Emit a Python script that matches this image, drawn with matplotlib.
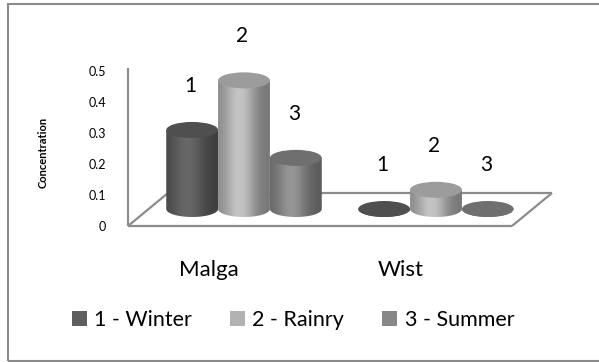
import numpy as np
import matplotlib
matplotlib.use("Agg")
import matplotlib.pyplot as plt
from matplotlib.patches import Ellipse, PathPatch, Rectangle, Patch
from matplotlib.path import Path
from matplotlib.lines import Line2D
import matplotlib.transforms as mtransforms

plt.rcParams['font.family'] = ['Lato', 'DejaVu Sans']

# --- data -------------------------------------------------------------
sites = ["Malga", "Wist"]
seasons = ["1 - Winter", "2 - Rainry", "3 - Summer"]
season_tags = ["1", "2", "3"]
winter = [0.255, 0.0]
rainry = [0.415, 0.062]
summer = [0.165, 0.0]
y_ticks = [0, 0.1, 0.2, 0.3, 0.4, 0.5]

series = [winter, rainry, summer]
base_colors = ["#5e5e5e", "#b2b2b2", "#878787"]
top_colors = ["#4f4f4f", "#9c9c9c", "#6f6f6f"]

DPI = 100
fig = plt.figure(figsize=(5.99, 3.62), dpi=DPI)
fig.patch.set_facecolor("white")

W, H = 599, 362
ax = fig.add_axes([128 / W, 136 / H, 384 / W, 155 / H])
ax.set_xlim(0, 2)
ax.set_ylim(0, 0.5)
ax.patch.set_alpha(0)
for s in ax.spines.values():
    s.set_visible(False)
ax.set_xticks([])
ax.set_yticks(y_ticks)
ax.set_yticklabels(["0", "0.1", "0.2", "0.3", "0.4", "0.5"], fontsize=9)
ax.tick_params(axis="y", length=0, pad=16)

# depth offsets (pixels) for the pseudo-3D floor
depth = mtransforms.Affine2D().translate(40, 33)
mid = mtransforms.Affine2D().translate(20, 17)
tr_back = ax.transData + depth
tr_mid = ax.transData + mid

floor_kw = dict(color="#8c8c8c", lw=1.6, solid_capstyle="butt", zorder=1)
ax.add_line(Line2D([0, 0], [0, 0.51], clip_on=False, **floor_kw))
ax.add_line(Line2D([0, 2], [0, 0], clip_on=False, **floor_kw))
ax.add_line(Line2D([0, 2], [0, 0], transform=tr_back, clip_on=False, **floor_kw))
for xe in (0, 2):
    p0 = ax.transData.transform((xe, 0))
    p1 = tr_back.transform((xe, 0))
    ax.add_line(Line2D([p0[0], p1[0]], [p0[1], p1[1]],
                       transform=None, clip_on=False, **floor_kw))

# cylinder geometry
bar_w = 0.27
spacing = 0.27
px_per_unit = ax.transData.transform((0, 1))[1] - ax.transData.transform((0, 0))[1]
b = 8.0 / px_per_unit  # half height of the elliptical caps


def shade(base, n=64):
    c = np.array(matplotlib.colors.to_rgb(base))
    t = np.linspace(0, 1, n)
    f = 0.74 + 0.40 * np.exp(-((t - 0.42) / 0.30) ** 2)
    f -= 0.08 * t
    rgb = np.clip(c[None, :] * f[:, None], 0, 1)
    return rgb[None, :, :]


def cylinder(xc, v, base, top, z):
    x0, x1 = xc - bar_w / 2, xc + bar_w / 2
    th = np.linspace(np.pi, 2 * np.pi, 40)
    arc = np.column_stack([xc + bar_w / 2 * np.cos(th), b * np.sin(th)])
    verts = np.vstack([[x0, v], [x0, 0], arc, [x1, 0], [x1, v], [x0, v]])
    codes = [Path.MOVETO] + [Path.LINETO] * (len(verts) - 2) + [Path.CLOSEPOLY]
    body = PathPatch(Path(verts, codes), transform=tr_mid, fc="none",
                     ec="none", clip_on=False)
    ax.add_patch(body)
    im = ax.imshow(shade(base), extent=(x0, x1, -b, v + b), aspect="auto",
                   interpolation="bilinear", transform=tr_mid, zorder=z,
                   clip_on=True)
    im.set_clip_path(body)
    cap = Ellipse((xc, v), bar_w, 2 * b, transform=tr_mid, fc=top,
                  ec="none", zorder=z + 0.1, clip_on=False)
    ax.add_patch(cap)


for ci, site in enumerate(sites):
    center = ci + 0.5
    for si, vals in enumerate(series):
        xc = center + (si - 1) * spacing
        z = 5 if si == 1 else 3
        cylinder(xc, vals[ci], base_colors[si], top_colors[si], z)
        ax.annotate(season_tags[si], xy=(xc, vals[ci]), xycoords=tr_mid,
                    xytext=(-2, 44), textcoords="offset pixels",
                    ha="center", va="center", fontsize=15, zorder=10,
                    annotation_clip=False)

ax.set_xlim(0, 2)
ax.set_ylim(0, 0.5)

# category labels under the floor
for ci, site in enumerate(sites):
    ax.annotate(site, xy=(ci + 0.5, 0), xycoords="data",
                xytext=(-15, -44), textcoords="offset pixels",
                ha="center", va="center", fontsize=16,
                annotation_clip=False)

fig.text(43 / W, 1 - 152 / H, "Concentration", rotation=90, ha="center",
         va="center", fontsize=8, fontweight="bold")

handles = [Patch(fc=c, ec="none") for c in base_colors]
fig.legend(handles, seasons, loc="center", bbox_to_anchor=(293 / W, 1 - 320 / H),
           ncol=3, frameon=False, fontsize=15.5, handlelength=0.7,
           handleheight=0.7, handletextpad=0.35, columnspacing=1.75,
           borderpad=0, borderaxespad=0)

fig.add_artist(Rectangle((8 / W, 1 - 361 / H), 600 / W, 357 / H,
                         transform=fig.transFigure, fill=False,
                         ec="#8a8a8a", lw=1.5))

fig.savefig("out.png", dpi=DPI, facecolor="white")
